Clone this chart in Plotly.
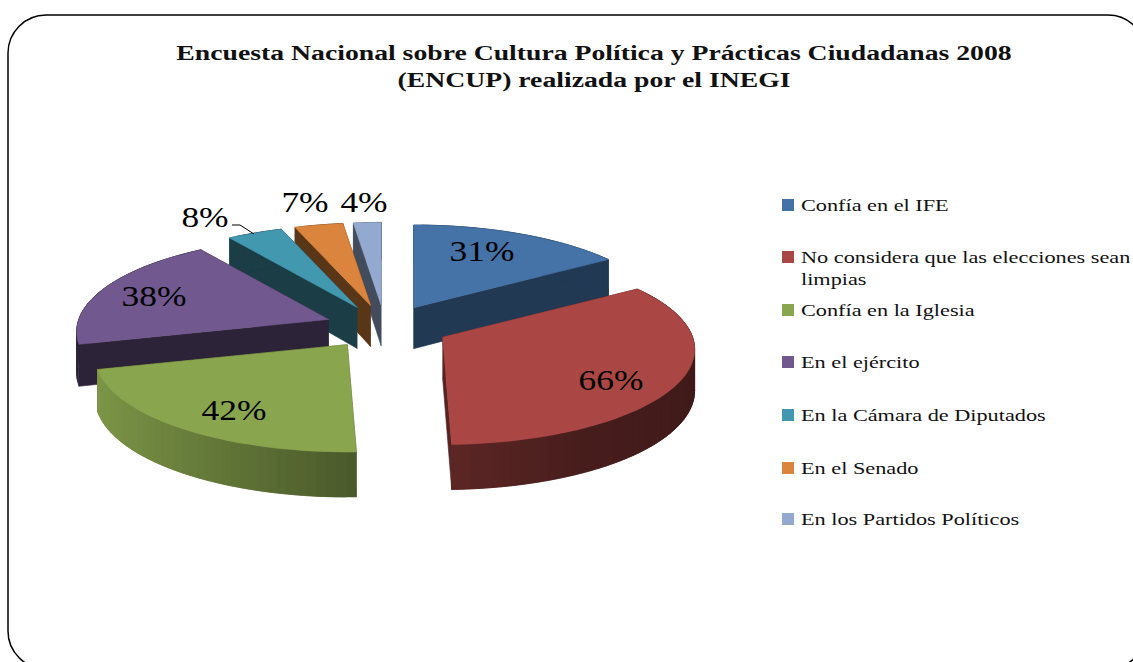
import numpy as np
import plotly.graph_objects as go

# Survey results, in the order the slices run clockwise from twelve o'clock
categories = [
    "Confía en el IFE",
    "No considera que las elecciones sean<br>limpias",
    "Confía en la Iglesia",
    "En el ejército",
    "En la Cámara de Diputados",
    "En el Senado",
    "En los Partidos Políticos",
]
values = [31, 66, 42, 38, 8, 7, 4]
colors = ["#4572A7", "#AA4643", "#89A54E", "#71588F", "#4198AF", "#DB843D", "#93A9CF"]
title_text = ("Encuesta Nacional sobre Cultura Política y Prácticas Ciudadanas 2008<br>"
              "(ENCUP) realizada por el INEGI")

# Pie geometry, in pixel units of the full-page axes
CX, CY = 385, 327
RADIUS = 250
TILT = 0.38
PERSPECTIVE = 0.13
PULL_Y = 22
SERIF = "Liberation Serif"

# Horizontal explosion of each slice
pull_x = [60, 65, 63, 60, 60, 60, 60]
# Back-to-front painting order, and how dark the cut faces are per slice
paint_order = [6, 5, 4, 0, 3, 1, 2]
cut_shade = [0.50, 0.50, 0.50, 0.40, 0.40, 0.41, 0.45]
lit_wall = [False, True, True, False, False, False, False]
# Positions of the percentage labels and where each legend row sits
label_x = [482, 611, 234, 154, 205, 305, 364]
label_y = [254, 383, 413, 299, 220, 205, 205]
swatch_y = [205, 257, 310, 362, 415, 468, 519]
legend_text_y = [207, 270, 312, 364, 417, 470, 521]


def darker(hex_color, factor):
    r, g, b = (int(hex_color[i:i + 2], 16) for i in (1, 3, 5))
    return f"rgb({r * factor:.0f},{g * factor:.0f},{b * factor:.0f})"


def rim(angle, apex):
    """Screen position and wall height of a rim point at the given clockwise angle."""
    u, v = np.sin(angle), np.cos(angle)
    scale = 1 - PERSPECTIVE * v
    x = apex[0] + RADIUS * u * scale
    y = apex[1] - RADIUS * TILT * v * scale
    return x, y, 41 - 4 * v


def polygon(xs, ys, color):
    return go.Scatter(x=xs, y=ys, mode="lines", fill="toself", fillcolor=color,
                      line=dict(color=color, width=0.6), hoverinfo="skip", showlegend=False)


fig = go.Figure()

edges = np.concatenate([[0], np.cumsum(values)]) / sum(values) * 2 * np.pi

for i in paint_order:
    a0, a1 = edges[i], edges[i + 1]
    mid = (a0 + a1) / 2
    apex = (CX + pull_x[i] * np.sin(mid), CY - PULL_Y * np.cos(mid))
    side = darker(colors[i], cut_shade[i])

    # Radial cut faces
    for a in (a0, a1):
        x, y, h = rim(a, apex)
        fig.add_trace(polygon([apex[0], x, x, apex[0]],
                              [apex[1], y, y + h, apex[1] + 41], side))

    # Outer wall, split into narrow strips so the shading can vary along it.
    # Each strip runs on under the next one so no seams show between them.
    steps = max(2, int((a1 - a0) / np.radians(2)))
    grid = np.linspace(a0, a1, steps + 1)
    for n in range(steps):
        s0, s1 = grid[n], grid[min(n + 2, steps)]
        x0, y0, h0 = rim(s0, apex)
        x1, y1, h1 = rim(s1, apex)
        if lit_wall[i]:
            f = np.interp(np.sin((grid[n] + grid[n + 1]) / 2),
                          [-1, 0, 0.5, 1], [0.92, 0.55, 0.42, 0.37])
            wall = darker(colors[i], f)
        else:
            wall = side
        fig.add_trace(polygon([x0, x1, x1, x0], [y0, y1, y1 + h1, y0 + h0], wall))

    # Top face
    grid = np.linspace(a0, a1, max(8, steps))
    pts = [rim(a, apex) for a in grid]
    fig.add_trace(polygon([apex[0]] + [p[0] for p in pts] + [apex[0]],
                          [apex[1]] + [p[1] for p in pts] + [apex[1]], colors[i]))

# Percentage labels
fig.add_trace(go.Scatter(
    x=label_x, y=label_y, mode="text", text=[f"{v}%" for v in values],
    textposition="middle center", cliponaxis=False, hoverinfo="skip", showlegend=False,
    textfont=dict(family=SERIF, size=30, color="#000000"),
))

# Legend rows: text beside a small colour swatch
fig.add_trace(go.Scatter(
    x=[801] * len(categories), y=legend_text_y, mode="text", text=categories,
    textposition="middle right", cliponaxis=False, hoverinfo="skip", showlegend=False,
    textfont=dict(family=SERIF, size=17, color="#111111"),
))
fig.add_trace(go.Scatter(
    x=[788] * len(categories), y=swatch_y, mode="markers", hoverinfo="skip", showlegend=False,
    marker=dict(symbol="square", size=12, color=colors, line=dict(width=0)),
))

# Rounded frame around the chart, running off the right and bottom of the page
L, T, R, B, r = 8, 15, 1146, 669, 38
k = r * 0.45
frame = (f"M {L},{T + r} C {L},{T + k} {L + k},{T} {L + r},{T} L {R - r},{T} "
         f"C {R - k},{T} {R},{T + k} {R},{T + r} L {R},{B - r} "
         f"C {R},{B - k} {R - k},{B} {R - r},{B} L {L + r},{B} "
         f"C {L + k},{B} {L},{B - k} {L},{B - r} Z")

fig.update_layout(
    width=1133, height=662, autosize=False,
    margin=dict(l=0, r=0, t=0, b=0),
    paper_bgcolor="white", plot_bgcolor="white",
    showlegend=False,
    xaxis=dict(range=[0, 1133], visible=False, fixedrange=True),
    yaxis=dict(range=[662, 0], visible=False, fixedrange=True),
    title=dict(text=title_text, x=594 / 1133, xanchor="center", y=1 - 60 / 662, yanchor="middle",
               font=dict(family=SERIF, size=21, color="#111111", weight="bold")),
    shapes=[
        dict(type="path", path=frame, line=dict(color="#000000", width=1.5), layer="below"),
        dict(type="path", path="M 232,225 L 240,225 L 254,234",
             line=dict(color="#000000", width=1)),
    ],
)

# The serif text is set wide: stretch each label horizontally around its anchor
widen = """
document.querySelectorAll('.textpoint text, .gtitle').forEach(function (t) {
  var x = parseFloat(t.getAttribute('x')) || 0;
  var size = parseFloat(t.style.fontSize) || 17;
  var sx = size > 25 ? 1.18 : (size > 19 ? 1.32 : 1.31);
  t.setAttribute('transform', 'translate(' + x + ' 0) scale(' + sx + ' 1) translate(' + (-x) + ' 0)');
});
"""

fig.write_html("out.html", post_script=widen)
